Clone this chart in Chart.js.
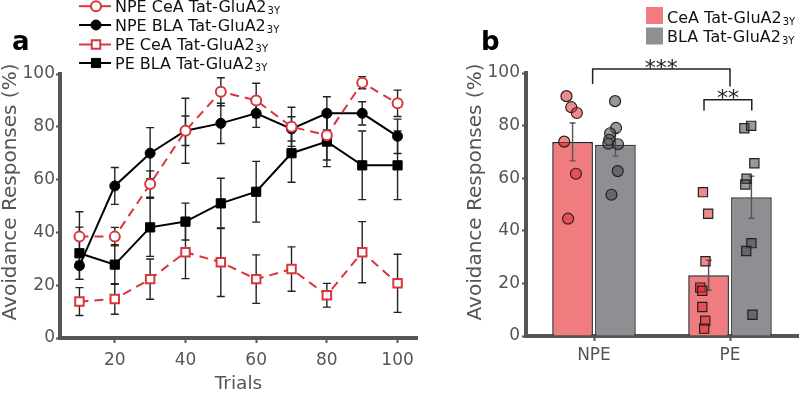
<!DOCTYPE html>
<html>
<head>
<meta charset="utf-8">
<script src="https://cdn.jsdelivr.net/npm/chart.js@4.4.0/dist/chart.umd.min.js"></script>
<style>
  body { margin: 0; background: #fff; }
  .wrap { position: relative; width: 800px; height: 393px; overflow: hidden; background: #fff; }
  canvas { position: absolute; top: 0; }
  #chartA { left: 0; }
  #chartB, #chartC { left: 430px; }
  #chartC { pointer-events: none; }
</style>
</head>
<body>
<div class="wrap">
  <canvas id="chartA" width="425" height="393"></canvas>
  <canvas id="chartB" width="370" height="393"></canvas>
  <canvas id="chartC" width="370" height="393"></canvas>
</div>
<script>
// ---- panel a: avoidance over trials ----
const trials = [10, 20, 30, 40, 50, 60, 70, 80, 90, 100];
const npeCea = [38.4, 38.4, 58.3, 78.5, 93.3, 90.0, 80.0, 76.8, 96.7, 88.9];
const npeCeaSem = [9.4, 3.5, 5.0, 12.3, 5.3, 6.5, 7.4, 9.4, 2.3, 5.0];
const npeBla = [27.4, 57.6, 70.0, 78.5, 81.3, 85.1, 79.2, 85.1, 85.1, 76.4];
const npeBlaSem = [5.2, 7.0, 9.7, 5.6, 7.6, 5.3, 4.6, 6.3, 4.4, 6.5];
const peCea = [13.8, 14.8, 22.3, 32.5, 28.7, 22.3, 26.1, 16.2, 32.5, 20.7];
const peCeaSem = [5.3, 5.8, 7.6, 10.0, 13.0, 9.2, 8.4, 4.5, 11.6, 11.0];
const peBla = [32.1, 27.8, 41.9, 44.1, 51.0, 55.4, 70.0, 74.4, 65.4, 65.4];
const peBlaSem = [9.9, 7.5, 11.0, 7.0, 9.5, 11.5, 11.0, 9.5, 13.0, 13.0];
const trialTicks = [20, 40, 60, 80, 100];
const pctTicks = [0, 20, 40, 60, 80, 100];

// ---- panel b: per-group means + individual animals ----
const groups = ['NPE', 'PE'];
const ceaMean = [73.8, 23.1];
const ceaSem = [7.2, 5.7];
const blaMean = [72.7, 52.8];
const blaSem = [4.3, 8.0];
const npeCeaPts = [91.2, 87.0, 84.8, 73.9, 61.7, 44.6];
const npeCeaJit = [-0.196, -0.160, -0.118, -0.213, -0.125, -0.184];
const npeBlaPts = [89.3, 79.1, 77.1, 74.6, 73.1, 72.9, 62.7, 53.7];
const npeBlaJit = [0.169, 0.176, 0.132, 0.125, 0.118, 0.191, 0.189, 0.142];
const peCeaPts = [54.7, 46.5, 28.4, 18.4, 17.2, 11.0, 5.8, 2.8];
const peCeaJit = [0.829, 0.868, 0.848, 0.809, 0.824, 0.824, 0.846, 0.838];
const peBlaPts = [79.0, 79.9, 65.7, 59.8, 57.6, 35.3, 32.3, 8.1];
const peBlaJit = [1.140, 1.191, 1.215, 1.156, 1.147, 1.193, 1.154, 1.201];

const SUB = '3Y';
const Y_TITLE = 'Avoidance Responses (%)';
const RED = '#D8363C';
const AXIS = '#555';
Chart.defaults.font.family = "'DejaVu Sans', sans-serif";

function xy(xs, ys) {
  return ys.map((v, i) => ({ x: xs[i], y: v }));
}

function labelWithSub(ctx, text, x, y) {
  ctx.font = "16px 'DejaVu Sans'";
  ctx.fillText(text, x, y);
  const w = ctx.measureText(text).width;
  ctx.font = "10px 'DejaVu Sans'";
  ctx.fillText(SUB, x + w + 1, y + 2);
}

function yTitle(ctx, x, y) {
  ctx.save();
  ctx.translate(x, y);
  ctx.rotate(-Math.PI / 2);
  ctx.font = "20px 'DejaVu Sans'";
  ctx.fillStyle = AXIS;
  ctx.textAlign = 'center';
  ctx.textBaseline = 'alphabetic';
  ctx.fillText(Y_TITLE, 0, 0);
  ctx.restore();
}

function marker(ctx, style, x, y, r, fill, stroke, lw) {
  ctx.beginPath();
  if (style === 'rect') {
    const s = r * Math.SQRT1_2;
    ctx.rect(x - s, y - s, 2 * s, 2 * s);
  } else {
    ctx.arc(x, y, r, 0, Math.PI * 2);
  }
  ctx.fillStyle = fill;
  ctx.fill();
  ctx.lineWidth = lw;
  ctx.strokeStyle = stroke;
  ctx.stroke();
}

const lineErrors = {
  id: 'lineErrors',
  beforeDatasetsDraw(chart) {
    const { ctx, scales: { x, y } } = chart;
    ctx.save();
    ctx.strokeStyle = '#222';
    ctx.lineWidth = 1.4;
    chart.data.datasets.forEach(ds => {
      ds.data.forEach((p, i) => {
        const px = x.getPixelForValue(p.x);
        const hi = y.getPixelForValue(p.y + ds.sem[i]);
        const lo = y.getPixelForValue(p.y - ds.sem[i]);
        ctx.beginPath();
        ctx.moveTo(px, hi); ctx.lineTo(px, lo);
        ctx.moveTo(px - 4, hi); ctx.lineTo(px + 4, hi);
        ctx.moveTo(px - 4, lo); ctx.lineTo(px + 4, lo);
        ctx.stroke();
      });
    });
    ctx.restore();
  }
};

const legendA = {
  id: 'legendA',
  afterDraw(chart) {
    const ctx = chart.ctx;
    const baselines = [11.7, 30.5, 50, 68.5];
    ctx.save();
    chart.data.datasets.forEach((ds, i) => {
      const b = baselines[i];
      const my = b - 5.5;
      ctx.strokeStyle = ds.borderColor;
      ctx.lineWidth = 2;
      ctx.beginPath();
      ctx.moveTo(79, my); ctx.lineTo(111, my);
      ctx.stroke();
      marker(ctx, ds.pointStyle, 96, my, ds.pointRadius, ds.pointBackgroundColor, ds.pointBorderColor, ds.pointBorderWidth);
      ctx.fillStyle = '#111';
      ctx.textBaseline = 'alphabetic';
      labelWithSub(ctx, ds.label, 115, b);
    });
    ctx.font = "bold 26px 'DejaVu Sans'";
    ctx.fillStyle = '#000';
    ctx.fillText('a', 12, 50);
    yTitle(ctx, 15.5, 192);
    ctx.restore();
  }
};

const axisFont = { size: 17 };

new Chart(document.getElementById('chartA'), {
  type: 'line',
  data: {
    datasets: [
      { label: 'NPE CeA Tat-GluA2', data: xy(trials, npeCea), sem: npeCeaSem,
        borderColor: RED, borderDash: [9, 6], borderWidth: 2,
        pointStyle: 'circle', pointRadius: 5, pointBackgroundColor: '#fff', pointBorderColor: RED, pointBorderWidth: 2 },
      { label: 'NPE BLA Tat-GluA2', data: xy(trials, npeBla), sem: npeBlaSem,
        borderColor: '#000', borderWidth: 2,
        pointStyle: 'circle', pointRadius: 5, pointBackgroundColor: '#000', pointBorderColor: '#000', pointBorderWidth: 1 },
      { label: 'PE CeA Tat-GluA2', data: xy(trials, peCea), sem: peCeaSem,
        borderColor: RED, borderDash: [9, 6], borderWidth: 2,
        pointStyle: 'rect', pointRadius: 6, pointBackgroundColor: '#fff', pointBorderColor: RED, pointBorderWidth: 2 },
      { label: 'PE BLA Tat-GluA2', data: xy(trials, peBla), sem: peBlaSem,
        borderColor: '#000', borderWidth: 2,
        pointStyle: 'rect', pointRadius: 6.5, pointBackgroundColor: '#000', pointBorderColor: '#000', pointBorderWidth: 1 }
    ]
  },
  options: {
    responsive: false,
    animation: false,
    layout: { padding: { top: 74, right: 7, left: 0, bottom: 0 } },
    elements: { line: { tension: 0 } },
    plugins: { legend: { display: false }, tooltip: { enabled: false } },
    scales: {
      x: {
        type: 'linear', min: 4.5, max: 105.5,
        afterBuildTicks: s => { s.ticks = trialTicks.map(v => ({ value: v })); },
        afterFit: s => { s.height = 55; },
        grid: { drawOnChartArea: false, tickLength: 5, tickWidth: 2, tickColor: AXIS },
        border: { color: AXIS, width: 4 },
        ticks: { color: AXIS, font: axisFont, padding: 7, maxRotation: 0, autoSkip: false },
        title: { display: true, text: 'Trials', color: AXIS, font: { size: 18.5, lineHeight: 1 }, padding: 0 }
      },
      y: {
        min: 0, max: 100,
        afterBuildTicks: s => { s.ticks = pctTicks.map(v => ({ value: v })); },
        afterFit: s => { s.width = 60; },
        grid: { drawOnChartArea: false, tickLength: 4, tickWidth: 2, tickColor: AXIS },
        border: { color: AXIS, width: 4 },
        ticks: { color: AXIS, font: axisFont, padding: 1 }
      }
    }
  },
  plugins: [lineErrors, legendA]
});

// ---- panel b ----
const barErrors = {
  id: 'barErrors',
  afterDatasetDraw(chart, args) {
    const ds = chart.data.datasets[args.index];
    if (!ds.sem) return;
    const { ctx, scales: { y } } = chart;
    ctx.save();
    ctx.strokeStyle = '#555';
    ctx.lineWidth = 1.4;
    args.meta.data.forEach((bar, i) => {
      const hi = y.getPixelForValue(ds.data[i] + ds.sem[i]);
      const lo = y.getPixelForValue(ds.data[i] - ds.sem[i]);
      ctx.beginPath();
      ctx.moveTo(bar.x, hi); ctx.lineTo(bar.x, lo);
      ctx.moveTo(bar.x - 3, hi); ctx.lineTo(bar.x + 3, hi);
      ctx.moveTo(bar.x - 3, lo); ctx.lineTo(bar.x + 3, lo);
      ctx.stroke();
    });
    ctx.restore();
  }
};

// significance brackets: [x0, x1, yTop, leftDrop, rightDrop, text] in axis units
const brackets = [
  [-0.01, 1.0, 101.5, 95.8, 94.9, '***'],
  [0.809, 1.16, 89.8, 85.7, 85.7, '**']
];

const legendB = {
  id: 'legendB',
  afterDraw(chart) {
    const { ctx, scales: { xj, y } } = chart;
    ctx.save();
    const rows = [[7, 22.7], [27.5, 41.7]];
    [0, 1].forEach(i => {
      const ds = chart.data.datasets[i];
      ctx.fillStyle = ds.backgroundColor;
      ctx.fillRect(216, rows[i][0], 17, 17);
      ctx.fillStyle = '#111';
      ctx.textBaseline = 'alphabetic';
      labelWithSub(ctx, ds.label, 237, rows[i][1]);
    });
    ctx.font = "bold 26px 'DejaVu Sans'";
    ctx.fillStyle = '#000';
    ctx.fillText('b', 51, 50);
    yTitle(ctx, 51, 192);

    ctx.strokeStyle = '#222';
    ctx.lineWidth = 1.5;
    ctx.fillStyle = '#222';
    ctx.font = "22px 'DejaVu Sans'";
    ctx.textAlign = 'center';
    brackets.forEach(([a, b, top, dl, dr, txt]) => {
      const x0 = xj.getPixelForValue(a), x1 = xj.getPixelForValue(b);
      const yt = y.getPixelForValue(top);
      ctx.beginPath();
      ctx.moveTo(x0, y.getPixelForValue(dl));
      ctx.lineTo(x0, yt);
      ctx.lineTo(x1, yt);
      ctx.lineTo(x1, y.getPixelForValue(dr));
      ctx.stroke();
      ctx.fillText(txt, (x0 + x1) / 2, yt + 5.5);
    });
    ctx.restore();
  }
};

new Chart(document.getElementById('chartB'), {
  type: 'bar',
  data: {
    labels: groups,
    datasets: [
      { label: 'CeA Tat-GluA2', data: ceaMean, sem: ceaSem, backgroundColor: '#F07C80',
        borderColor: '#222', borderWidth: 1.5 },
      { label: 'BLA Tat-GluA2', data: blaMean, sem: blaSem, backgroundColor: '#8E8F93',
        borderColor: '#333', borderWidth: 1.5 }
    ]
  },
  options: {
    responsive: false,
    animation: false,
    layout: { padding: { top: 73, right: 2, left: 0, bottom: 0 } },
    datasets: { bar: { categoryPercentage: 0.63, barPercentage: 0.95 } },
    plugins: { legend: { display: false }, tooltip: { enabled: false } },
    scales: {
      x: {
        afterFit: s => { s.height = 57; },
        grid: { drawOnChartArea: false, offset: false, tickLength: 5, tickWidth: 2, tickColor: AXIS },
        border: { color: AXIS, width: 4 },
        ticks: { color: AXIS, font: axisFont, padding: 4 }
      },
      xj: { type: 'linear', display: false, offset: false, min: -0.5, max: 1.5 },
      y: {
        min: 0, max: 100,
        afterBuildTicks: s => { s.ticks = pctTicks.map(v => ({ value: v })); },
        afterFit: s => { s.width = 96; },
        grid: { drawOnChartArea: false, tickLength: 4, tickWidth: 2, tickColor: AXIS },
        border: { color: AXIS, width: 4 },
        ticks: { color: AXIS, font: axisFont, padding: 2 }
      }
    }
  },
  plugins: [barErrors, legendB]
});

// individual animals, overlaid on the same plot area as panel b
const ptRed = 'rgba(228, 40, 50, 0.55)';
const ptGray = 'rgba(70, 70, 76, 0.55)';

new Chart(document.getElementById('chartC'), {
  type: 'scatter',
  data: {
    datasets: [
      { data: xy(npeCeaJit, npeCeaPts), pointStyle: 'circle', pointRadius: 5.5,
        backgroundColor: ptRed, borderColor: '#222', borderWidth: 1.2 },
      { data: xy(npeBlaJit, npeBlaPts), pointStyle: 'circle', pointRadius: 5.5,
        backgroundColor: ptGray, borderColor: '#222', borderWidth: 1.2 },
      { data: xy(peCeaJit, peCeaPts), pointStyle: 'rect', pointRadius: 6.5,
        backgroundColor: ptRed, borderColor: '#222', borderWidth: 1.2 },
      { data: xy(peBlaJit, peBlaPts), pointStyle: 'rect', pointRadius: 6.5,
        backgroundColor: ptGray, borderColor: '#222', borderWidth: 1.2 }
    ]
  },
  options: {
    responsive: false,
    animation: false,
    layout: { padding: { top: 73, right: 2, left: 96, bottom: 57 } },
    plugins: { legend: { display: false }, tooltip: { enabled: false } },
    scales: {
      x: { type: 'linear', display: false, min: -0.5, max: 1.5 },
      y: { display: false, min: 0, max: 100 }
    }
  }
});
</script>
</body>
</html>
